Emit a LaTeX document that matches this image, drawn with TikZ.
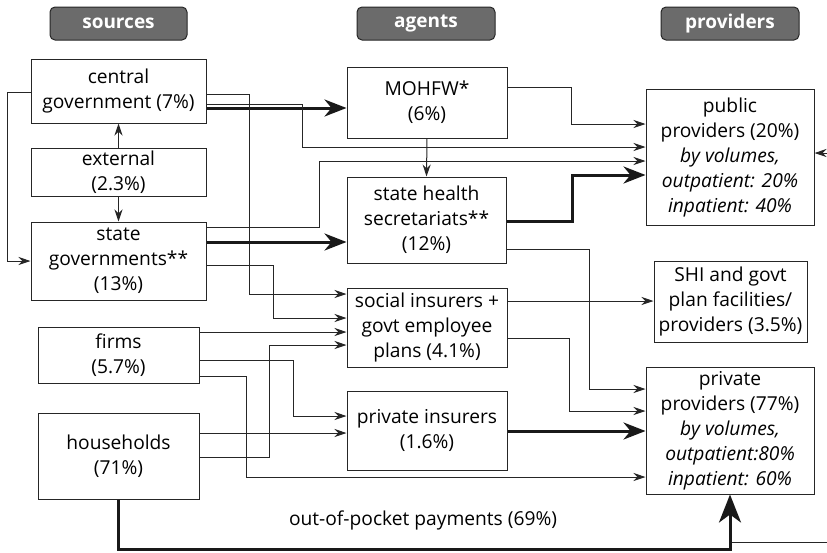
\documentclass[tikz,border=0pt]{standalone}
\usepackage{fontspec}
\setmainfont{Open Sans}
\usepackage{tikz}
\usetikzlibrary{calc, arrows.meta}

\begin{document}
\begin{tikzpicture}[x=1pt, y=-1pt,
  box/.style={draw=black!85, line width=1pt, align=center, inner sep=0pt, font=\fontsize{19.2}{25}\selectfont},
  head/.style={draw=black!85, fill=black!58, rounded corners=5pt, line width=1pt, text=white, font=\fontsize{19}{22}\selectfont\bfseries, minimum height=33pt},
  flow/.style={draw=black!85, line width=1pt, -{Stealth[length=12pt, width=8pt]}},
  bigflow/.style={draw=black!90, line width=3pt, -{Stealth[length=22pt, width=17pt, inset=7pt]}},
  rim/.style={draw=black!85, line width=1pt}]
  \useasboundingbox (0,0) rectangle (827,552);
  % Column heads
  \node[head, minimum width=137pt] (hsrc) at (118.5,23.5) {sources};
  \node[head, minimum width=138pt] (hagt) at (426,23.5) {agents};
  \node[head, minimum width=138pt] (hprv) at (730,23.5) {providers};
  % Sources
  \node[box, minimum width=175pt, minimum height=64pt] (cg) at (118.5,91) {central\\government (7\%)};
  \node[box, minimum width=175pt, minimum height=48pt] (ext) at (118.5,172) {external\\(2.3\%)};
  \node[box, minimum width=175pt, minimum height=78pt] (sg) at (118.5,261) {state\\governments**\\(13\%)};
  \node[box, minimum width=161pt, minimum height=56pt] (firms) at (118.5,355) {firms\\(5.7\%)};
  \node[box, minimum width=161pt, minimum height=86pt] (hh) at (118.5,456) {households\\(71\%)};
  % Agents
  \node[box, minimum width=160pt, minimum height=71pt] (mohfw) at (427,102.5) {MOHFW*\\(6\%)};
  \node[box, minimum width=159pt, minimum height=86pt] (shs) at (426.5,220) {state health\\secretariats**\\(12\%)};
  \node[box, minimum width=160pt, minimum height=79pt] (si) at (427,327.5) {social insurers +\\govt employee\\plans (4.1\%)};
  \node[box, minimum width=160pt, minimum height=79pt] (pi) at (427,430.5) {private insurers\\(1.6\%)};
  % Providers
  \node[box, minimum width=168pt, minimum height=136pt] (pub) at (730,157) {public\\providers (20\%)\\\textit{by volumes,}\\\textit{outpatient: 20\%}\\\textit{inpatient: 40\%}};
  \node[box, minimum width=153pt, minimum height=81pt] (shi) at (730.5,301.5) {SHI and govt\\plan facilities/\\providers (3.5\%)};
  \node[box, minimum width=168pt, minimum height=127pt] (priv) at (730,430.5) {private\\providers (77\%)\\\textit{by volumes,}\\\textit{outpatient:80\%}\\\textit{inpatient: 60\%}};
  \node[font=\fontsize{19.2}{25}\selectfont] (oop) at (423,520) {out-of-pocket payments (69\%)};
  \coordinate (rimA) at (827,153);
  \coordinate (rimB) at (827,542);
  % Sources to agents
  \draw[bigflow] (cg.east |- 0,108) -- (mohfw.west |- 0,108);
  \draw[flow] (cg.east |- 0,104.5) -| (302,147) -- (pub.west |- 0,147);
  \draw[flow] (cg.east |- 0,94) -| (249,294) -- (si.west |- 0,294);
  \draw[flow] (cg.west |- 0,92) -| (7,261) -- (sg.west);
  \draw[flow] (ext.north) -- (cg.south);
  \draw[flow] (ext.south) -- (sg.north);
  \draw[flow] (sg.east |- 0,227) -| (319,161) -- (pub.west |- 0,161);
  \draw[bigflow] (sg.east |- 0,242) -- (shs.west |- 0,242);
  \draw[flow] (sg.east |- 0,265) -| (273,318) -- (si.west |- 0,318);
  \draw[flow] (firms.east |- 0,332) -- (si.west |- 0,332);
  \draw[flow] (firms.east |- 0,360) -| (293,416) -- (pi.west |- 0,416);
  \draw[flow] (firms.east |- 0,376) -| (246,477) -- (priv.west |- 0,477);
  \draw[flow] (hh.east |- 0,433) -- (pi.west |- 0,433);
  \draw[flow] (hh.east |- 0,457) -| (269,345) -- (si.west |- 0,345);
  % Agents to providers
  \draw[flow] (mohfw.east |- 0,87) -| (571,124) -- (pub.west |- 0,124);
  \draw[flow] (mohfw.south) -- (shs.north);
  \draw[bigflow] (shs.east |- 0,221) -| (572,175) -- (pub.west |- 0,175);
  \draw[flow] (shs.east |- 0,249) -| (589,389) -- (priv.west |- 0,389);
  \draw[flow] (si.east |- 0,301) -- (shi.west |- 0,301);
  \draw[flow] (si.east |- 0,338) -| (569,411) -- (priv.west |- 0,411);
  \draw[bigflow] (pi.east |- 0,431) -- (priv.west |- 0,431);
  % Out-of-pocket
  \draw[bigflow, -{Stealth[length=28pt, width=22pt, inset=8pt]}] (hh.south) |- (priv.south |- 0,549) -- (priv.south);
  \draw[flow] (rimA) -- (pub.east |- rimA);
  \draw[rim] ([xshift=1.5pt]priv.south |- rimB) -- (rimB);
\end{tikzpicture}
\end{document}
